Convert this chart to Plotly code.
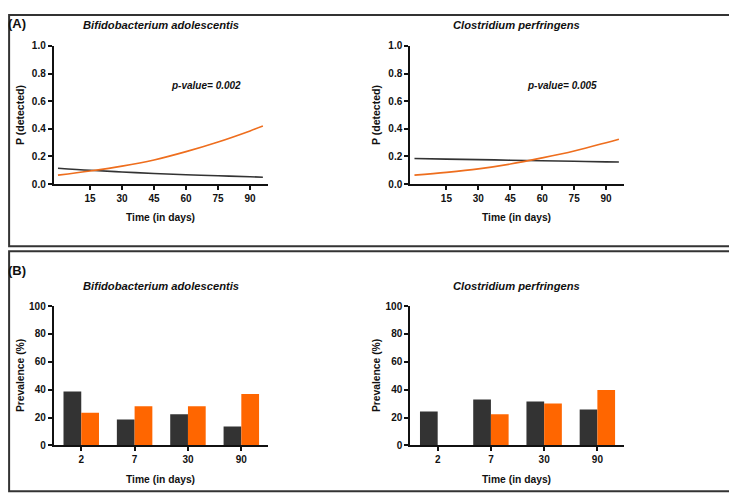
import plotly.graph_objects as go

W, H = 737, 499

# ---- Data ----
species = ["Bifidobacterium adolescentis", "Clostridium perfringens"]
p_values = ["p-value= 0.002", "p-value= 0.005"]

days_curve = [0, 15, 30, 45, 60, 75, 90, 96]
bifido_black = [0.115, 0.100, 0.088, 0.077, 0.068, 0.060, 0.053, 0.050]
bifido_orange = [0.065, 0.095, 0.130, 0.175, 0.235, 0.305, 0.385, 0.420]
clostr_black = [0.185, 0.181, 0.177, 0.173, 0.169, 0.165, 0.161, 0.160]
clostr_orange = [0.065, 0.085, 0.110, 0.145, 0.190, 0.240, 0.300, 0.325]

bar_days = ["2", "7", "30", "90"]
bifido_prev_black = [38.6, 18.5, 22.4, 13.6]
bifido_prev_orange = [23.4, 28.0, 28.0, 36.9]
clostr_prev_black = [24.3, 33.0, 31.5, 25.7]
clostr_prev_orange = [0, 22.4, 30.1, 39.7]

BLACK = "#333333"
ORANGE_LINE = "#EE6E1E"
ORANGE_BAR = "#FF6600"
FONT = "Liberation Sans, Arial, sans-serif"

# the page places the figure 8px from the window's top-left corner
OX, OY = 8, 8

def px(x):
    return (x - OX) / W

def py(y):
    return 1 - (y - OY) / H

fig = go.Figure()

curves = [(bifido_black, bifido_orange), (clostr_black, clostr_orange)]
for i, (blk, org) in enumerate(curves):
    xa = "x" if i == 0 else "x2"
    ya = "y" if i == 0 else "y2"
    fig.add_trace(go.Scatter(x=days_curve, y=blk, mode="lines", line=dict(color=BLACK, width=1.6, shape="spline"),
                             xaxis=xa, yaxis=ya, showlegend=False))
    fig.add_trace(go.Scatter(x=days_curve, y=org, mode="lines", line=dict(color=ORANGE_LINE, width=1.6, shape="spline"),
                             xaxis=xa, yaxis=ya, showlegend=False))

bars = [(bifido_prev_black, bifido_prev_orange), (clostr_prev_black, clostr_prev_orange)]
for i, (blk, org) in enumerate(bars):
    xa = "x3" if i == 0 else "x4"
    ya = "y3" if i == 0 else "y4"
    fig.add_trace(go.Bar(x=bar_days, y=blk, marker=dict(color=BLACK, line=dict(width=0)),
                         xaxis=xa, yaxis=ya, showlegend=False))
    fig.add_trace(go.Bar(x=bar_days, y=org, marker=dict(color=ORANGE_BAR, line=dict(width=0)),
                         xaxis=xa, yaxis=ya, showlegend=False))

tickfont = dict(family=FONT, size=10, color="#111111", weight="bold")
axis_common = dict(showline=True, linecolor="#111111", linewidth=1.5, ticks="outside", ticklen=4,
                   tickwidth=1.5, tickcolor="#111111", showgrid=False, zeroline=False, tickfont=tickfont)

xdomL = [px(53.5), px(268)]
xdomR = [px(410), px(624)]
ydomA = [py(182.3), py(40.7)]
ydomB = [py(450), py(307.3)]

fig.update_layout(
    width=W, height=H, margin=dict(l=0, r=0, t=0, b=0),
    paper_bgcolor="white", plot_bgcolor="white",
    barmode="group", bargap=0.335, bargroupgap=0,
    xaxis=dict(domain=xdomL, anchor="y", range=[-2.1, 98.4], tickvals=[15, 30, 45, 60, 75, 90], **axis_common),
    yaxis=dict(domain=ydomA, anchor="x", range=[0, 1], tickvals=[0, 0.2, 0.4, 0.6, 0.8, 1.0],
               tickformat=".1f", **axis_common),
    xaxis2=dict(domain=xdomR, anchor="y2", range=[-2.1, 98.4], tickvals=[15, 30, 45, 60, 75, 90], **axis_common),
    yaxis2=dict(domain=ydomA, anchor="x2", range=[0, 1], tickvals=[0, 0.2, 0.4, 0.6, 0.8, 1.0],
                tickformat=".1f", **axis_common),
    xaxis3=dict(domain=xdomL, anchor="y3", type="category", range=[-0.52, 3.5], **axis_common),
    yaxis3=dict(domain=ydomB, anchor="x3", range=[0, 100], tickvals=[0, 20, 40, 60, 80, 100], **axis_common),
    xaxis4=dict(domain=xdomR, anchor="y4", type="category", range=[-0.52, 3.5], **axis_common),
    yaxis4=dict(domain=ydomB, anchor="x4", range=[0, 100], tickvals=[0, 20, 40, 60, 80, 100], **axis_common),
)

ann = []
def text(u, v, s, size=11, italic=False, angle=0, xanchor="center", yanchor="middle"):
    ann.append(dict(x=u, y=v, xref="paper", yref="paper", text=s, showarrow=False,
                    xanchor=xanchor, yanchor=yanchor, textangle=angle,
                    font=dict(family=FONT, size=size, color="#111111", weight="bold",
                              style="italic" if italic else "normal")))

text(px(16.7), py(18), "(A)", size=13)
text(px(16.7), py(270.7), "(B)", size=13)
for cx, cyx, sp, pv, pvx in [(160.7, 20, species[0], p_values[0], 205.7),
                             (516.7, 376, species[1], p_values[1], 562)]:
    text(px(cx), py(19.3), sp, size=11.2, italic=True)
    text(px(cx), py(286.7), sp, size=11.2, italic=True)
    text(px(pvx), py(81.7), pv, size=10, italic=True)
    text(px(cx), py(216.7), "Time (in days)", size=10.3)
    text(px(cx), py(485), "Time (in days)", size=10.3)
    text(px(cyx), py(111.5), "P (detected)", size=10.5, angle=-90)
    text(px(cyx), py(379), "Prevalence (%)", size=10.3, angle=-90)

fig.update_layout(annotations=ann)

shapes = [
    dict(type="rect", xref="paper", yref="paper", x0=0.0015, x1=px(735), y0=py(246), y1=0.998,
         line=dict(color="#333333", width=2)),
    dict(type="rect", xref="paper", yref="paper", x0=0.0015, x1=px(736), y0=py(497), y1=py(251),
         line=dict(color="#333333", width=2)),
]
fig.update_layout(shapes=shapes)

fig.write_html("out.html")
